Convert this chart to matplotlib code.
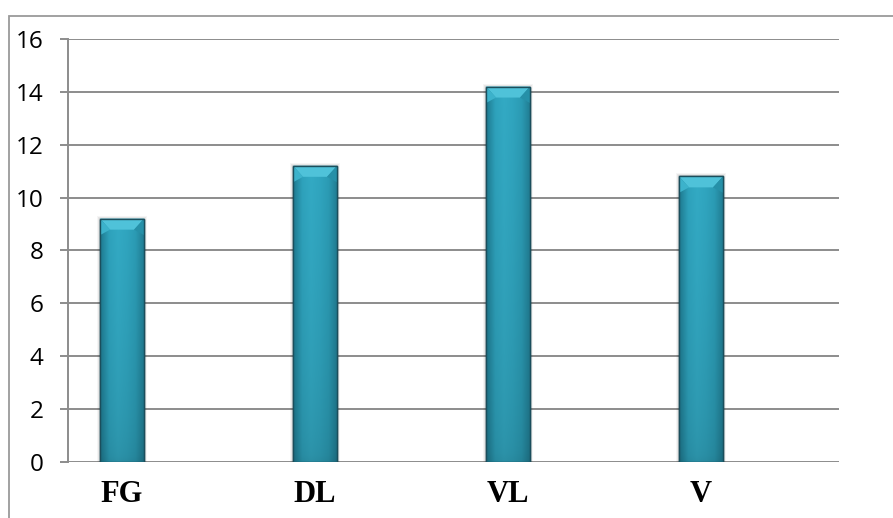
import numpy as np
import matplotlib
matplotlib.use("Agg")
import matplotlib.pyplot as plt
from matplotlib.patches import Polygon, Rectangle
from matplotlib.colors import LinearSegmentedColormap

categories = ["FG", "DL", "VL", "V"]
values = [9.2, 11.2, 14.2, 10.8]
y_ticks = [0, 2, 4, 6, 8, 10, 12, 14, 16]

W, H, DPI = 893, 518, 100
fig = plt.figure(figsize=(W / DPI, H / DPI), dpi=DPI)
fig.patch.set_facecolor("white")

# outer frame (top and left edges visible)
frame = Rectangle((9 / W, -0.1), 1.2, (H - 16) / H + 0.1, transform=fig.transFigure,
                  fill=False, edgecolor="#9a9a9a", linewidth=1.3)
fig.patches.append(frame)

ax_l, ax_r, ax_t, ax_b = 68, 839, 39, 461.7
ax = fig.add_axes([ax_l / W, (H - ax_b) / H, (ax_r - ax_l) / W, (ax_b - ax_t) / H])
ax.set_xlim(-0.28, 3.715)
ax.set_ylim(0, 16)

grid_c = "#8c8c8c"
for s in ["top", "right", "bottom"]:
    ax.spines[s].set_visible(False)
ax.spines["left"].set_color(grid_c)
ax.spines["left"].set_linewidth(1.4)
ax.set_yticks(y_ticks)
ax.yaxis.grid(True, color=grid_c, linewidth=1.4)
ax.set_axisbelow(True)
ax.tick_params(axis="y", length=5.8, width=1.4, color=grid_c, pad=12,
               labelsize=17.5, labelcolor="black")
for lab in ax.get_yticklabels():
    lab.set_fontfamily("Open Sans")

x = np.arange(len(categories))
ax.set_xticks(x)
ax.set_xticklabels(categories, fontfamily="Liberation Serif", fontweight="bold", fontsize=22)
ax.tick_params(axis="x", length=0, pad=13)

bar_w = 0.228
bars = ax.bar(x, values, width=bar_w, color="#2a9db7", edgecolor="#1b4e5c",
              linewidth=1.0, zorder=3)

# shading: horizontal and vertical gradient inside each bar
cmap_h = LinearSegmentedColormap.from_list(
    "barshade", ["#1e7a90", "#2ea2bc", "#33aac4", "#30a5bf", "#2b9bb4", "#207b91"])
fig.canvas.draw()
px_x = ax.transData.transform((1, 0))[0] - ax.transData.transform((0, 0))[0]
px_y = ax.transData.transform((0, 1))[1] - ax.transData.transform((0, 0))[1]
bev_x = 10.0 / px_x
bev_y = 11.0 / px_y

for b in bars:
    x0, w, h = b.get_x(), b.get_width(), b.get_height()
    gx = np.linspace(0, 1, 64)
    gy = np.linspace(0, 1, 64)[:, None]
    img = cmap_h(gx)[None, :, :3] * (0.84 + 0.16 * np.sqrt(gy))[:, :, None]
    im = ax.imshow(img, extent=(x0, x0 + w, 0, h), origin="lower",
                   aspect="auto", zorder=3.5, interpolation="bilinear")
    im.set_clip_path(b)
    # bevelled top face
    top = Polygon([(x0, h), (x0 + w, h), (x0 + w - bev_x, h - bev_y), (x0 + bev_x, h - bev_y)],
                  closed=True, facecolor="#4fc2d9", edgecolor="none", zorder=4)
    left = Polygon([(x0, h), (x0 + bev_x, h - bev_y), (x0, h - bev_y * 1.5)],
                   closed=True, facecolor="#3cb2cb", edgecolor="none", zorder=4)
    right = Polygon([(x0 + w, h), (x0 + w - bev_x, h - bev_y), (x0 + w, h - bev_y * 1.5)],
                    closed=True, facecolor="#2690a8", edgecolor="none", zorder=4)
    for p in (top, left, right):
        ax.add_patch(p)
    # outline on top of shading
    ax.add_patch(Rectangle((x0, 0), w, h, fill=False, edgecolor="#1b4e5c",
                           linewidth=1.0, zorder=4.5))
    # soft shadow around bar
    for k, a in [(3, 0.04), (2, 0.06), (1, 0.08)]:
        dx, dy = k / px_x, k / px_y
        ax.add_patch(Rectangle((x0 - dx, 0), w + 2 * dx, h + dy, facecolor="#000000",
                               alpha=a, edgecolor="none", zorder=2.5))

fig.savefig("out.png", dpi=DPI, facecolor="white")
